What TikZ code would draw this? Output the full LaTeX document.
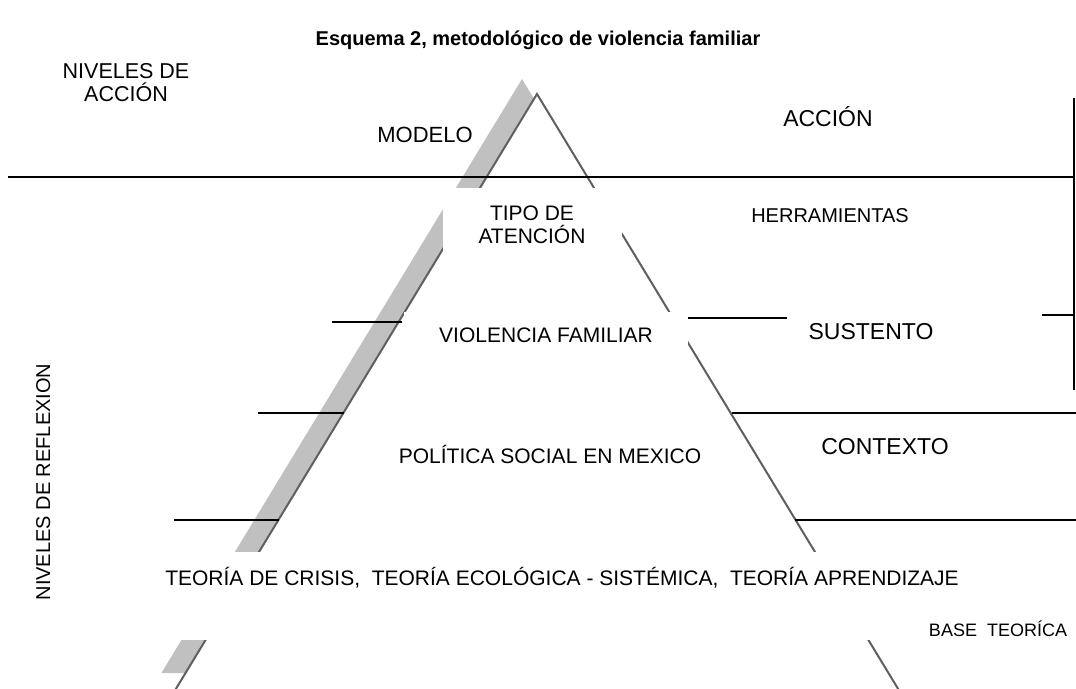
\documentclass[tikz,border=0pt]{standalone}
\usepackage{fontspec}
\setmainfont{Liberation Sans}
\definecolor{shadowgray}{RGB}{192,192,192}
\definecolor{legcol}{RGB}{95,95,95}
\tikzset{
  hline/.style={black, line width=1.5pt},
  mask/.style={fill=white},
  lbl/.style={font=\fontsize{21}{23}\selectfont, inner sep=0pt, align=center, anchor=base},
  biglbl/.style={font=\fontsize{23}{25}\selectfont, inner sep=0pt, align=center, anchor=base},
}
\begin{document}
\begin{tikzpicture}[x=1pt,y=-1pt]
\useasboundingbox (0,0) rectangle (1076,688);
\clip (0,0) rectangle (1076,688);
% shadow and triangle
\fill[shadowgray] (522,79) -- (161.4,673) -- (882.6,673) -- cycle;
\draw[legcol, line width=2pt, fill=white] (537,94) -- (165.5,706) -- (908.5,706) -- cycle;
% horizontal lines
\draw[hline] (8,177) -- (1074,177);
\draw[hline] (1074,98) -- (1074,390);
\draw[hline] (332,322) -- (402,322);
\draw[hline] (258,413) -- (344,413);
\draw[hline] (174,520) -- (279,520);
\draw[hline] (688,318) -- (787,318);
\draw[hline] (1042,315) -- (1074,315);
\draw[hline] (732,413) -- (1076,413);
\draw[hline] (795,520) -- (1076,520);
% masks
\fill[mask] (443,188) rectangle (622,258);
\fill[mask] (404,312) rectangle (688,352);
\fill[mask] (140,552) rectangle (885,640);
% labels
\node[font=\bfseries\fontsize{20}{22}\selectfont, inner sep=0pt, anchor=base] (title) at (538,45) {Esquema 2, metodológico de violencia familiar};
\node[lbl, font=\fontsize{21.5}{23}\selectfont] (nivacc) at (126,101) {NIVELES DE\\ACCIÓN};
\node[lbl, font=\fontsize{22}{24}\selectfont] (modelo) at (425,142) {MODELO};
\node[biglbl] (accion) at (828,126) {ACCIÓN};
\node[lbl] (tipo) at (532,243) {TIPO DE\\ATENCIÓN};
\node[lbl, font=\fontsize{20}{22}\selectfont] (herr) at (830,222) {HERRAMIENTAS};
\node[lbl] (viol) at (546,342) {VIOLENCIA FAMILIAR};
\node[biglbl] (sust) at (871,339) {SUSTENTO};
\node[lbl] (polit) at (550,463) {POLÍTICA SOCIAL EN MEXICO};
\node[biglbl] (cont) at (885,454) {CONTEXTO};
\node[lbl] (teor) at (562,585) {TEORÍA DE CRISIS,\ \ TEORÍA ECOLÓGICA - SISTÉMICA,\ \ TEORÍA APRENDIZAJE};
\node[font=\fontsize{18}{20}\selectfont, inner sep=0pt, anchor=base] (base) at (998,636) {BASE\ \ TEORÍCA};
\node[font=\fontsize{20}{22}\selectfont, inner sep=0pt, anchor=base, rotate=90] (reflex) at (50,482) {NIVELES DE REFLEXION};
\end{tikzpicture}
\end{document}
